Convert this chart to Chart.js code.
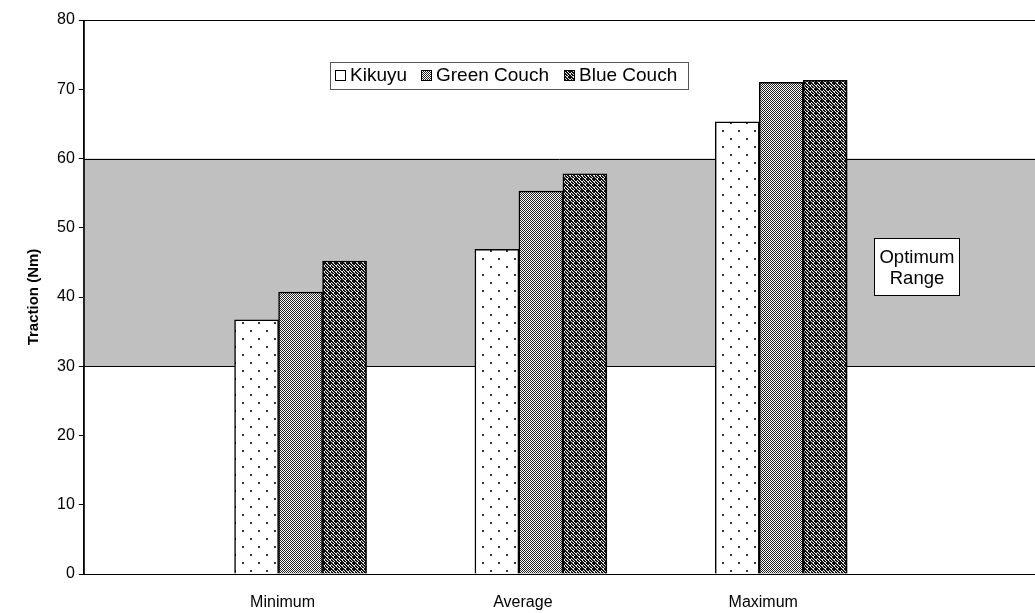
<!DOCTYPE html><html><head><script src="https://cdn.jsdelivr.net/npm/chart.js@4"></script>
<style>body{margin:0;background:#fff}#w{width:1035px;height:613px}</style></head><body><div id="w"><canvas id="c"></canvas></div>
<script>
const categories=["Minimum","Average","Maximum"];
const kikuyu=[36.7,46.9,65.3];
const greenCouch=[40.7,55.3,71.0];
const blueCouch=[45.2,57.8,71.3];
const seriesNames=["Kikuyu","Green Couch","Blue Couch"];
const optimumLow=30, optimumHigh=60;
const FONT='"Liberation Sans", Arial';

function pat(type){
  const c=document.createElement('canvas');const x=c.getContext('2d');
  if(type===0){c.width=c.height=16;x.fillStyle='#fff';x.fillRect(0,0,16,16);x.fillStyle='#333';
    x.fillRect(2,2,2,2);x.fillRect(10,10,2,2);}
  else if(type===1){c.width=c.height=2;x.fillStyle='#fff';x.fillRect(0,0,2,2);x.fillStyle='#222';x.fillRect(0,0,1,1);x.fillRect(1,1,1,1);}
  else{c.width=c.height=6;x.fillStyle='#111';x.fillRect(0,0,6,6);x.fillStyle='#e8e8e8';
    [[1,0],[4,0],[0,1],[5,1],[3,2],[1,3],[4,3],[2,4],[3,4],[0,2],[2,1],[3,5]].forEach(p=>x.fillRect(p[0],p[1],1,1));}
  return document.createElement('canvas').getContext('2d').createPattern(c,'repeat');
}
const pats=[pat(0),pat(1),pat(2)];
const arrs=[kikuyu,greenCouch,blueCouch];

const bg={id:'bg',beforeDatasetsDraw(ch){const {ctx,chartArea:a,scales:{y}}=ch;ctx.save();ctx.fillStyle='#c0c0c0';
  const t=y.getPixelForValue(optimumHigh),b=y.getPixelForValue(optimumLow);ctx.fillRect(a.left,t,a.right-a.left,b-t);
  ctx.strokeStyle='#000';ctx.lineWidth=1;ctx.beginPath();ctx.moveTo(a.left,Math.round(t)+.5);ctx.lineTo(a.right,Math.round(t)+.5);ctx.moveTo(a.left,Math.round(b)+.5);ctx.lineTo(a.right,Math.round(b)+.5);ctx.stroke();ctx.restore();},
 afterDraw(ch){const {ctx,chartArea:a}=ch;ctx.save();ctx.strokeStyle='#000';ctx.lineWidth=1;
  ctx.strokeRect(a.left+.5,a.top+.5,a.right-a.left,a.bottom-a.top);
  ctx.fillStyle='#fff';ctx.fillRect(874,238,85,57);ctx.strokeRect(874.5,238.5,85,57);
  ctx.fillStyle='#000';ctx.font='18.5px '+FONT;ctx.textAlign='center';ctx.textBaseline='middle';
  ctx.fillText('Optimum',917,258);ctx.fillText('Range',917,279);
  ctx.fillStyle='#fff';ctx.fillRect(330,62,358,27);ctx.strokeStyle='#555';ctx.strokeRect(330.5,62.5,358,27);
  ctx.textAlign='left';ctx.font='19px '+FONT;const xs=[335,421,564];
  seriesNames.forEach((n,i)=>{const x0=xs[i];ctx.fillStyle=pats[i];ctx.fillRect(x0,70,11,11);ctx.strokeStyle='#000';ctx.strokeRect(x0+.5,70.5,10,10);
    ctx.fillStyle='#000';ctx.fillText(n,x0+15,76);});
  ctx.restore();}};

new Chart(document.getElementById('c'),{type:'bar',
 data:{datasets:arrs.map((a,i)=>({label:seriesNames[i],data:a.map((v,j)=>({x:j,y:v})),backgroundColor:pats[i],borderColor:'#000',borderWidth:1.5,barThickness:44}))},
 options:{responsive:true,maintainAspectRatio:false,animation:false,
  layout:{padding:{left:25,right:0,top:20,bottom:0}},
  plugins:{legend:{display:false},tooltip:{enabled:false}},
  scales:{x:{type:'linear',offset:false,min:-0.902,max:3.056,grid:{display:false,drawTicks:false,offset:false},border:{color:'#000'},
     afterBuildTicks(s){s.ticks=[0,1,2].map(v=>({value:v}));},
     afterFit(s){s.height=39;},
     ticks:{color:'#000',font:{size:16,family:FONT},padding:19,labelOffset:-18,autoSkip:false,maxRotation:0,callback:v=>categories[v]}},
   y:{min:0,max:80,ticks:{stepSize:10,color:'#000',padding:4,font:{size:16,family:FONT}},grid:{drawOnChartArea:false,tickLength:5,color:'#000'},border:{color:'#000'},
     title:{display:true,text:'Traction (Nm)',color:'#000',padding:{top:0,bottom:10},font:{size:15,weight:'bold',family:FONT}}}}},
 plugins:[bg]});
</script></body></html>
